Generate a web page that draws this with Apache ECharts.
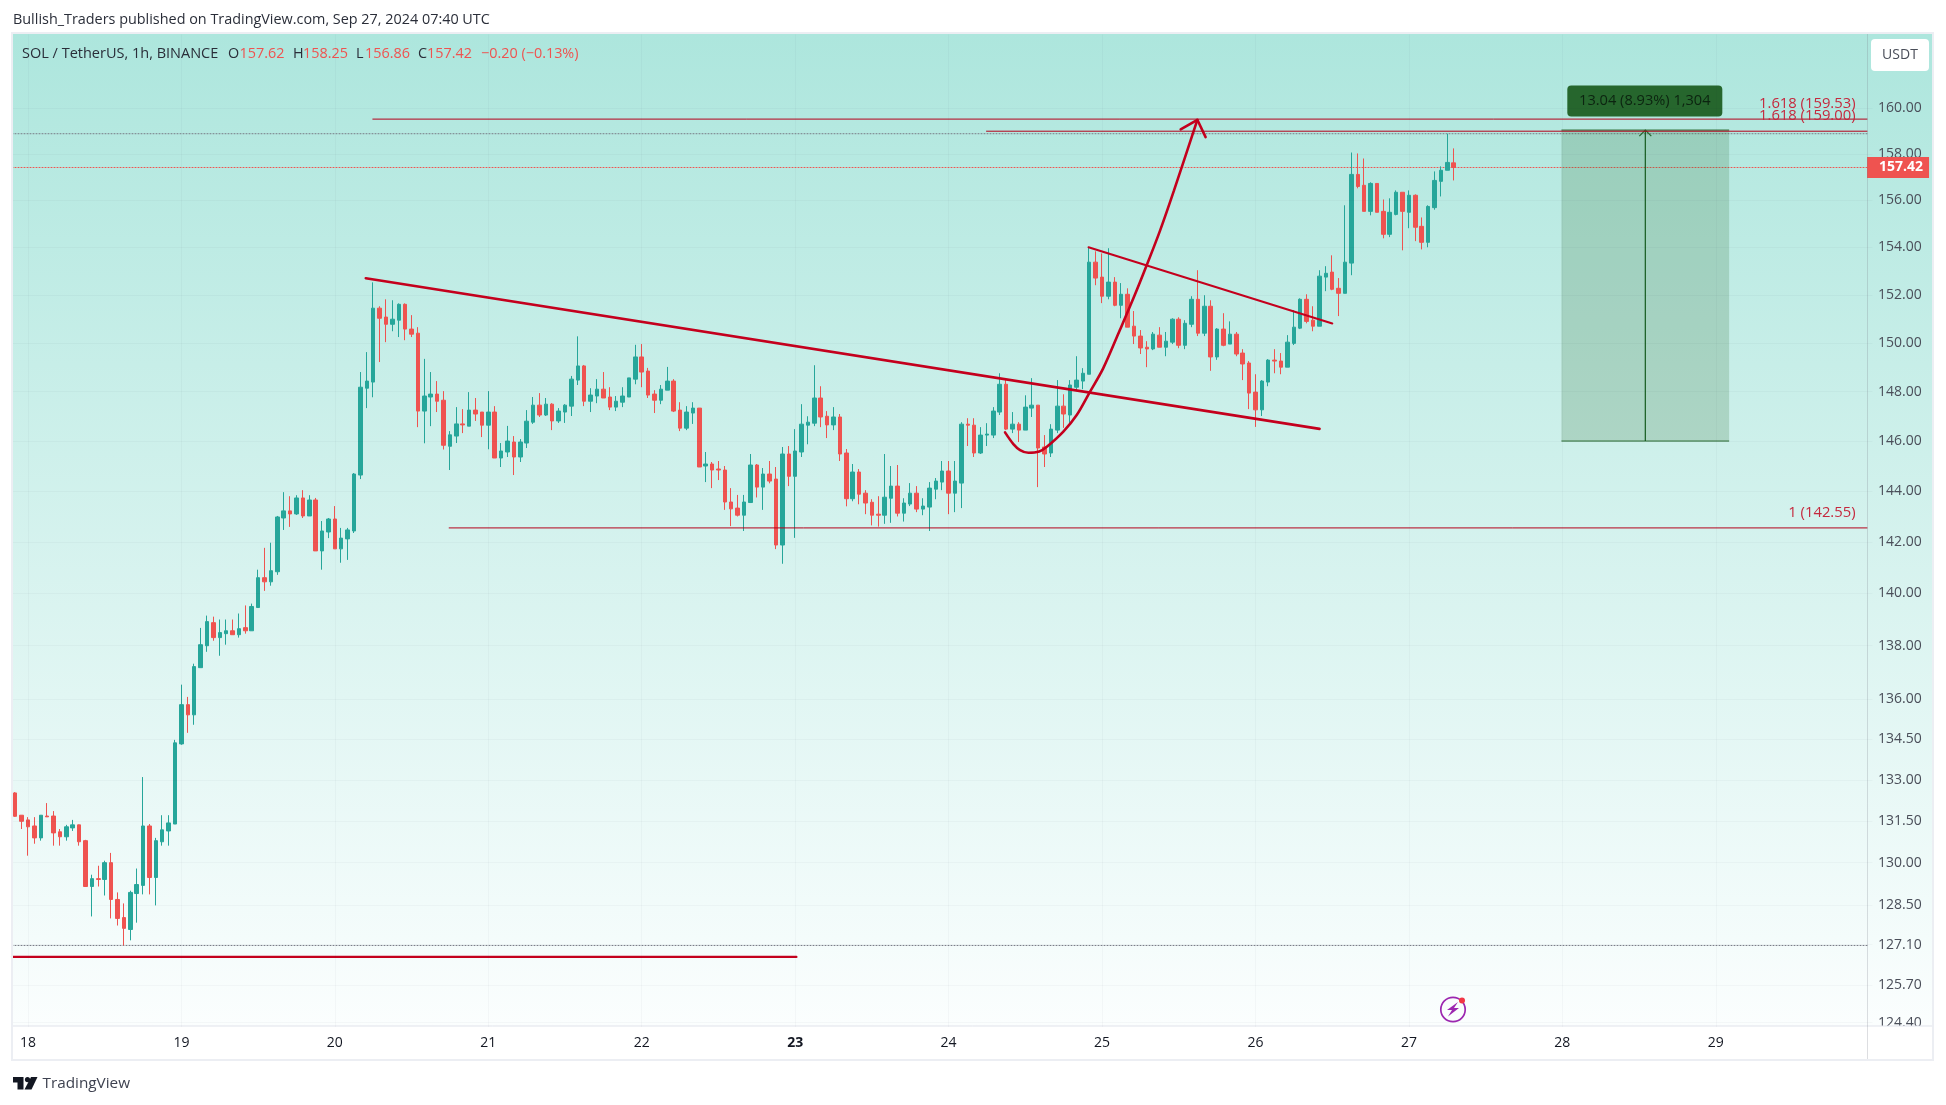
<!DOCTYPE html>
<html>
<head>
<meta charset="utf-8">
<title>SOL / TetherUS</title>
<script src="https://cdn.jsdelivr.net/npm/echarts@6/dist/echarts.min.js"></script>
<style>
  html, body { margin: 0; padding: 0; background: #fff; }
  #chart { width: 1946px; height: 1105px; }
</style>
</head>
<body>
<div id="chart"></div>
<script>
// hourly candles, first bar is Sep 17 22:00
const opens = [
  132.52,131.71,131.54,131.32,130.89,131.68,131.68,131.11,130.93,131.25,
  131.36,130.79,129.15,129.43,129.40,130.00,128.69,128.05,127.63,128.90,
  129.19,131.32,129.47,130.75,131.14,131.39,134.32,135.78,135.40,137.17,
  138.00,138.88,138.31,138.46,138.57,138.42,138.69,138.57,139.46,140.61,
  140.45,140.84,142.94,143.22,143.10,143.73,143.02,143.65,141.65,142.39,
  142.90,141.73,142.12,142.43,144.64,148.14,148.39,151.44,151.07,150.77,
  150.94,151.60,150.57,150.40,147.21,147.78,147.90,147.65,145.79,146.20,
  146.69,146.60,147.25,147.17,146.64,147.17,145.32,145.56,145.96,145.36,
  145.92,146.76,147.45,147.05,147.49,146.81,147.17,147.41,148.47,149.05,
  147.61,147.82,148.10,147.78,147.37,147.57,147.78,148.51,149.42,148.84,
  147.90,147.65,148.06,148.43,147.25,146.52,147.13,147.33,145.00,145.08,
  144.88,144.84,143.57,143.33,143.05,143.55,145.04,144.16,144.68,144.48,
  141.88,145.48,144.59,145.56,146.64,146.72,147.74,147.00,146.65,146.97,
  145.52,143.70,144.76,143.92,143.56,143.09,143.05,143.72,144.20,143.13,
  143.49,143.92,143.29,143.37,144.08,144.36,144.80,143.92,144.32,146.68,
  146.64,145.52,146.24,146.24,147.17,148.30,146.48,146.68,146.44,147.33,
  147.45,145.76,145.52,146.44,147.41,147.05,148.18,148.43,148.71,153.37,
  152.74,151.94,152.53,151.56,152.02,150.69,150.28,149.82,149.75,150.32,
  149.82,150.03,150.98,149.90,150.77,151.81,150.40,151.52,149.42,150.57,
  149.95,150.36,149.58,149.17,147.98,147.26,148.39,149.29,149.25,149.00,
  149.98,150.61,151.81,150.94,150.69,152.74,152.95,152.27,152.06,153.33,
  157.12,156.65,155.53,156.73,155.53,154.55,155.40,156.35,155.49,156.22,
  154.89,154.21,155.69,156.82,157.30,157.62
];
const highs = [
  132.55,131.71,131.64,131.64,131.71,132.15,131.86,131.21,131.36,131.54,
  131.37,130.82,129.57,129.89,130.07,130.35,128.94,128.55,129.00,129.79,
  133.10,131.39,130.89,131.71,131.71,134.47,136.53,136.07,137.32,138.68,
  139.15,139.11,139.00,139.00,139.00,139.23,139.54,139.61,140.92,141.77,
  141.97,143.02,143.96,143.80,143.84,144.04,143.84,143.73,142.82,142.94,
  143.41,142.55,142.55,144.72,148.80,149.62,152.52,151.52,151.81,151.77,
  151.64,151.64,151.15,150.65,149.34,148.80,148.43,148.02,146.40,147.37,
  147.29,147.98,147.74,147.17,148.02,147.41,145.92,146.61,146.20,146.08,
  147.25,147.78,147.94,147.74,147.53,147.33,147.49,148.64,150.27,149.09,
  148.14,148.51,148.80,148.18,147.82,148.18,148.56,149.92,149.95,148.97,
  148.06,148.27,149.01,148.51,147.57,147.41,147.57,147.33,145.56,145.16,
  145.20,145.00,144.12,143.85,143.85,145.48,145.08,144.92,145.20,144.96,
  145.76,145.80,146.48,147.49,147.00,149.08,148.22,147.21,147.37,147.09,
  145.68,145.08,144.88,144.04,143.68,143.80,145.48,145.00,145.04,143.72,
  144.32,144.20,143.72,144.36,144.52,145.20,145.20,145.20,146.76,146.92,
  146.92,146.56,146.72,147.37,148.75,148.51,147.17,146.76,147.85,148.55,
  147.45,146.24,146.68,148.47,147.89,148.47,149.45,148.96,153.99,153.83,
  153.74,153.96,152.74,152.49,152.27,151.32,150.53,150.07,150.45,150.65,
  150.45,151.02,151.06,150.94,151.94,153.03,151.98,151.77,150.61,151.23,
  150.89,150.45,149.74,149.25,148.71,148.47,149.33,149.74,149.58,150.32,
  151.36,151.85,152.02,151.52,153.03,153.20,153.66,152.70,155.79,158.07,
  158.03,157.81,156.78,156.73,156.04,156.09,156.43,156.35,156.43,156.26,
  155.27,155.79,157.25,157.47,158.89,158.25
];
const lows = [
  131.65,131.21,130.25,130.68,130.79,131.65,130.61,130.61,130.79,131.14,
  130.61,129.15,128.09,129.15,128.83,128.02,127.77,127.07,127.25,127.87,
  128.87,128.87,128.48,130.61,130.61,131.39,134.29,134.73,135.03,137.17,
  137.77,138.19,137.62,138.04,138.42,138.31,138.46,138.57,139.46,140.10,
  140.30,140.72,142.47,142.59,143.06,142.94,143.02,141.65,140.92,142.15,
  141.73,141.19,141.30,142.35,144.48,147.33,147.77,149.21,150.03,150.48,
  150.24,150.11,150.24,146.56,145.91,146.60,147.17,145.66,144.84,145.92,
  146.32,146.60,146.81,146.16,145.67,145.32,144.96,145.36,144.64,145.16,
  145.72,146.69,146.97,147.01,146.44,146.73,146.73,147.01,148.27,147.41,
  147.17,147.53,147.74,147.25,147.21,147.37,147.78,148.30,148.18,147.74,
  147.13,147.49,148.06,147.17,146.40,146.44,146.69,144.96,144.36,144.12,
  144.44,143.26,142.62,143.00,142.43,143.53,143.75,143.26,144.31,141.72,
  141.15,144.20,142.16,145.36,145.87,146.60,146.56,146.12,146.44,145.20,
  143.40,143.60,143.48,143.09,142.65,142.60,142.71,142.75,143.00,142.80,
  143.41,143.17,143.05,142.43,143.68,144.04,143.09,143.17,143.33,145.80,
  145.36,145.48,145.80,146.12,147.05,146.44,146.32,145.96,146.44,146.97,
  144.16,144.96,145.36,146.32,146.53,146.73,148.02,148.10,148.71,152.40,
  151.65,151.81,151.52,151.02,150.65,149.95,149.54,149.00,149.70,149.82,
  149.45,149.95,149.78,149.74,150.65,150.28,150.28,148.85,149.30,149.86,
  149.95,149.45,148.47,147.29,146.57,147.01,148.22,148.75,148.71,149.00,
  149.91,150.57,150.81,150.48,150.69,152.15,152.19,151.11,152.06,152.82,
  156.52,155.53,155.36,155.49,154.38,154.43,155.36,153.87,154.81,154.26,
  153.91,154.00,155.60,156.17,157.30,156.86
];
const closes = [
  131.67,131.49,131.29,130.89,131.71,131.65,131.07,130.93,131.29,131.36,
  130.75,129.15,129.43,129.40,130.00,128.69,128.02,127.67,128.94,129.22,
  131.32,129.47,130.79,131.18,131.43,134.36,135.78,135.40,137.21,138.04,
  138.92,138.31,138.50,138.57,138.42,138.65,138.57,139.50,140.61,140.45,
  140.88,142.98,143.22,143.10,143.73,143.02,143.65,141.65,142.43,142.90,
  141.73,142.15,142.47,144.68,148.18,148.43,151.44,151.02,150.77,150.98,
  151.60,150.57,150.36,147.21,147.82,147.90,147.61,145.83,146.25,146.69,
  146.65,147.25,147.09,146.64,147.17,145.32,145.60,146.00,145.36,145.96,
  146.80,147.45,147.05,147.49,146.81,147.21,147.45,148.51,149.05,147.61,
  147.86,148.10,147.74,147.37,147.61,147.82,148.56,149.42,148.80,147.86,
  147.65,148.10,148.43,147.21,146.52,147.17,147.33,144.96,145.08,144.84,
  144.84,143.57,143.30,143.05,143.57,145.04,144.16,144.68,144.40,141.88,
  145.48,144.59,145.60,146.68,146.76,147.74,146.97,146.65,146.97,145.48,
  143.70,144.76,143.88,143.53,143.05,143.05,143.76,144.20,143.13,143.53,
  143.92,143.29,143.41,144.12,144.40,144.80,143.92,144.40,146.68,146.64,
  145.52,146.24,146.28,147.21,148.30,146.48,146.68,146.44,147.37,147.45,
  145.72,145.48,146.48,147.41,147.09,148.27,148.47,148.75,153.37,152.70,
  151.94,152.53,151.56,152.02,150.65,150.28,149.79,149.75,150.36,149.82,
  150.07,150.98,149.90,150.81,151.81,150.40,151.52,149.42,150.57,149.90,
  150.36,149.54,149.13,147.94,147.26,148.43,149.29,149.25,149.00,150.03,
  150.65,151.81,150.89,150.69,152.78,152.90,152.23,152.06,153.37,157.12,
  156.60,155.53,156.73,155.49,154.55,155.49,156.35,155.53,156.22,154.85,
  154.21,155.74,156.86,157.30,157.64,157.42
];

const priceTicks = [160,158,156,154,152,150,148,146,144,142,140,138,136,134.5,133,131.5,130,128.5,127.1,125.7,124.4];
const dayLabels = ['18','19','20','21','22','23','24','25','26','27','28','29'];
const dayBars = [2,26,50,74,98,122,146,170,194,218,242,266];
const barSlots = 291; // includes the empty bars on the right
const scaleEdge = 289.66; // bar position of the price scale border

// drawings, [bar index, price]
const mainTrend = [[54.84,152.69],[204.03,146.49]];
const wedgeTrend = [[167.89,154.0],[206.02,150.8]];
const curveArrow = [[154.83,146.35],[156.13,145.88],[157.18,145.64],[158.48,145.53],[160.17,145.58],[161.37,145.77],[163.95,146.38],[166.04,147.05],[168.02,147.95],[170.18,148.95],[172.79,150.53],[174.89,151.84],[177,153.25],[179.09,154.72],[181.26,156.43],[184.91,159.5]];
const arrowWings = [[182.3,159.08],[184.91,159.5],[186.2,158.74]];
const supportLine = [[-0.5,126.67],[122.2,126.67]];
const fibLevels = [[55.94,159.53,'1.618 (159.53)'],[151.93,159.0,'1.618 (159.00)'],[67.88,142.55,'1 (142.55)']];
const dottedLevels = [[158.89,'#787b86'],[157.42,'#ef5350'],[127.07,'#787b86']];
const lastPrice = 157.42;
const position = { left: 241.86, right: 268.09, mid: 254.98, top: 159.05, bottom: 146.0, text: '13.04 (8.93%) 1,304' };

const upColor = '#26a69a';
const downColor = '#ef5350';
const drawRed = '#c4001d';
const gridColor = 'rgba(42,46,57,0.03)';
const uiFont = '"Open Sans", sans-serif';

const categories = [];
for (let i = 0; i < barSlots; i++) categories.push(String(i));

function drawLine(points, color, width, type) {
    return {
        type: 'line',
        xAxisIndex: 1,
        data: points,
        showSymbol: false,
        symbol: 'none',
        silent: true,
        animation: false,
        z: 5,
        lineStyle: { color: color, width: width, type: type || 'solid', cap: 'round' }
    };
}

function headerText(x, y, text, color, size) {
    return {
        type: 'text', x: x, y: y, silent: true, z: 20,
        style: { text: text, fill: color, font: (size || 14.4) + 'px ' + uiFont, textVerticalAlign: 'middle' }
    };
}

const legendDark = '#2a2e39';
const graphicItems = [
    // chart background, runs under the price scale too
    { type: 'rect', z: -10, silent: true, shape: { x: 13, y: 34, width: 1919, height: 992 },
      style: { fill: new echarts.graphic.LinearGradient(0, 0, 0, 1, [
          { offset: 0, color: '#ade6dd' }, { offset: 1, color: '#fbfefe' }]) } },
    // time scale panel covers the clipped bottom price label
    { type: 'rect', z: 10, silent: true, shape: { x: 13, y: 1026, width: 1919, height: 34 }, style: { fill: '#fff' } },
    { type: 'line', z: 11, silent: true, shape: { x1: 13, y1: 1026, x2: 1932, y2: 1026 }, style: { stroke: '#e0e3eb', lineWidth: 1 } },
    { type: 'line', z: 11, silent: true, shape: { x1: 1867.5, y1: 34, x2: 1867.5, y2: 1060 }, style: { stroke: 'rgba(120,123,134,0.25)', lineWidth: 1 } },
    { type: 'rect', z: 12, silent: true, shape: { x: 12, y: 33, width: 1921, height: 1027 }, style: { fill: null, stroke: '#eceef3', lineWidth: 2 } },

    headerText(13, 20, 'Bullish_Traders published on TradingView.com, Sep 27, 2024 07:40 UTC', '#2a2e39', 14.4),
    headerText(22, 54, 'SOL / TetherUS, 1h, BINANCE', legendDark, 14.5),
    headerText(228, 54, 'O', legendDark), headerText(239.5, 54, '157.62', downColor),
    headerText(293, 54, 'H', legendDark), headerText(303, 54, '158.25', downColor),
    headerText(356, 54, 'L', legendDark), headerText(365, 54, '156.86', downColor),
    headerText(418, 54, 'C', legendDark), headerText(427, 54, '157.42', downColor),
    headerText(481, 54, '\u22120.20 (\u22120.13%)', downColor),

    // currency button
    { type: 'rect', z: 20, silent: true, shape: { x: 1871, y: 39, width: 58, height: 32, r: 4 }, style: { fill: '#fff' } },
    { type: 'text', z: 21, silent: true, x: 1900, y: 55, style: { text: 'USDT', fill: '#4a4e59', font: '14px ' + uiFont, textAlign: 'center', textVerticalAlign: 'middle' } },

    // alert icon
    { type: 'circle', z: 20, silent: true, shape: { cx: 1453, cy: 1009.5, r: 12.2 }, style: { fill: null, stroke: '#9c27b0', lineWidth: 1.7 } },
    { type: 'polygon', z: 20, silent: true, shape: { points: [[1458,1002],[1447,1010],[1452,1010],[1448,1016.5],[1459,1008],[1454,1008]] }, style: { fill: '#9c27b0' } },
    { type: 'circle', z: 21, silent: true, shape: { cx: 1462, cy: 1000.4, r: 3 }, style: { fill: '#f23645' } },

    // TradingView logo
    { type: 'polygon', z: 20, silent: true, shape: { points: [[13,1077],[23.5,1077],[23.5,1089.5],[17.5,1089.5],[17.5,1082.5],[13,1082.5]] }, style: { fill: '#131722' } },
    { type: 'circle', z: 20, silent: true, shape: { cx: 27.5, cy: 1079.6, r: 2.6 }, style: { fill: '#131722' } },
    { type: 'polygon', z: 20, silent: true, shape: { points: [[31,1077],[37.5,1077],[31.5,1089.5],[24.5,1089.5]] }, style: { fill: '#131722' } },
    { type: 'text', z: 20, silent: true, x: 42.5, y: 1083.5, style: { text: 'TradingView', fill: '#3e4250', font: '15.3px ' + uiFont, textVerticalAlign: 'middle' } }
];

const chart = echarts.init(document.getElementById('chart'), null, { renderer: 'canvas' });

const option = {
    animation: false,
    backgroundColor: '#fff',
    graphic: { elements: graphicItems },
    grid: { left: 12, top: 34.5, width: 1860.4, height: 992.5, containLabel: false },
    xAxis: [
        { type: 'category', data: categories, show: false, boundaryGap: true },
        {
            type: 'value', position: 'bottom', min: -0.5, max: barSlots - 0.5, z: 30,
            axisLine: { show: false },
            axisTick: { show: false, customValues: dayBars },
            splitLine: { show: true, lineStyle: { color: gridColor, width: 1 } },
            axisLabel: {
                show: true, customValues: dayBars, margin: 9.5, color: '#131722',
                fontFamily: uiFont, fontSize: 14,
                formatter: function (val) {
                    const day = dayLabels[dayBars.indexOf(val)];
                    return day === '23' ? '{b|' + day + '}' : day;
                },
                rich: { b: { fontWeight: 'bold', fontFamily: uiFont, fontSize: 14, color: '#131722' } }
            }
        }
    ],
    yAxis: {
        type: 'log', position: 'right', logBase: 10, min: 124.25, max: 163.29, z: 5,
        axisLine: { show: false },
        axisTick: { show: false, customValues: priceTicks },
        minorTick: { show: false },
        splitLine: { show: true, lineStyle: { color: gridColor, width: 1 } },
        axisLabel: {
            show: true, customValues: priceTicks, margin: 5.6, color: '#4a4e59',
            fontFamily: uiFont, fontSize: 14, showMinLabel: true, showMaxLabel: true,
            formatter: function (val) { return Number(val).toFixed(2); }
        }
    },
    series: [
        {
            type: 'candlestick',
            xAxisIndex: 0,
            barWidth: 4,
            z: 3,
            silent: true,
            data: opens.map((o, i) => [o, closes[i], lows[i], highs[i]]),
            itemStyle: { color: upColor, color0: downColor, borderColor: upColor, borderColor0: downColor, borderWidth: 1 }
        },
        drawLine(mainTrend, drawRed, 2.6),
        drawLine(wedgeTrend, drawRed, 2),
        Object.assign(drawLine(curveArrow, drawRed, 2.6), { smooth: 0.3 }),
        drawLine(arrowWings, drawRed, 2.6),
        drawLine(supportLine, drawRed, 2.2)
    ]
};

fibLevels.forEach(function (f) {
    option.series.push(drawLine([[f[0], f[1]], [scaleEdge, f[1]]], '#b5001a', 1));
});
dottedLevels.forEach(function (d) {
    const s = drawLine([[-0.5, d[0]], [scaleEdge, d[0]]], d[1], 1, [1, 2]);
    s.z = 2;
    option.series.push(s);
});

// long position box
option.series.push({
    type: 'custom', xAxisIndex: 1, silent: true, z: 4, data: [[position.left, position.top]],
    renderItem: function (params, api) {
        const tl = api.coord([position.left, position.top]);
        const br = api.coord([position.right, position.bottom]);
        const midX = api.coord([position.mid, position.top])[0];
        return {
            type: 'group',
            children: [
                { type: 'rect', shape: { x: tl[0], y: tl[1], width: br[0] - tl[0], height: br[1] - tl[1] }, style: { fill: 'rgba(45,105,45,0.2)' } },
                { type: 'line', shape: { x1: tl[0], y1: tl[1], x2: br[0], y2: tl[1] }, style: { stroke: '#26662d', lineWidth: 1 } },
                { type: 'line', shape: { x1: tl[0], y1: br[1], x2: br[0], y2: br[1] }, style: { stroke: '#26662d', lineWidth: 1 } },
                { type: 'line', shape: { x1: midX, y1: tl[1], x2: midX, y2: br[1] }, style: { stroke: '#145a1e', lineWidth: 1.2 } },
                { type: 'polyline', shape: { points: [[midX - 6, tl[1] + 6], [midX, tl[1]], [midX + 6, tl[1] + 6]] }, style: { stroke: '#26662d', lineWidth: 1.2, fill: null } },
                { type: 'rect', shape: { x: midX - 78, y: tl[1] - 44.5, width: 155, height: 31, r: 4 }, style: { fill: '#26662d' } },
                { type: 'text', x: midX - 0.5, y: tl[1] - 29, style: { text: position.text, fill: '#0c2410', font: '14.6px ' + uiFont, textAlign: 'center', textVerticalAlign: 'middle' } }
            ]
        };
    }
});

// fib level captions
option.series.push({
    type: 'custom', xAxisIndex: 1, silent: true, z: 6, data: fibLevels.map(f => [f[0], f[1], f[2]]),
    encode: { x: 0, y: 1 },
    renderItem: function (params, api) {
        const p = api.coord([scaleEdge, api.value(1)]);
        return { type: 'text', x: p[0] - 11.5, y: p[1] - 15.5, style: { text: fibLevels[params.dataIndex][2], fill: '#c5283d', font: '14.8px ' + uiFont, textAlign: 'right', textVerticalAlign: 'middle' } };
    }
});

// last price tag on the scale
option.series.push({
    type: 'custom', xAxisIndex: 1, silent: true, z: 8, data: [[scaleEdge, lastPrice]],
    renderItem: function (params, api) {
        const p = api.coord([scaleEdge, lastPrice]);
        return {
            type: 'group',
            children: [
                { type: 'rect', shape: { x: p[0], y: p[1] - 10.5, width: 62, height: 21 }, style: { fill: downColor } },
                { type: 'text', x: p[0] + 34, y: p[1], style: { text: lastPrice.toFixed(2), fill: '#fff', font: 'bold 14px ' + uiFont, textAlign: 'center', textVerticalAlign: 'middle' } }
            ]
        };
    }
});

chart.setOption(option);
</script>
</body>
</html>
